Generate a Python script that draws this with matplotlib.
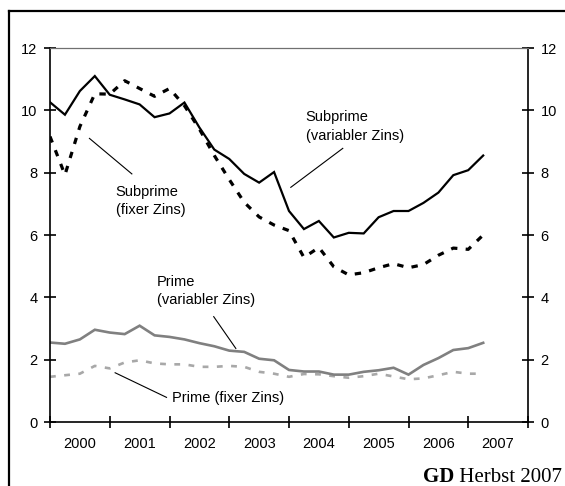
import matplotlib
matplotlib.use("Agg")
import matplotlib.pyplot as plt
import numpy as np
from matplotlib.lines import Line2D

plt.rcParams['font.family'] = ['Liberation Sans', 'DejaVu Sans']

# quarterly data 2000Q1 .. 2007Q2
quarters = [2000 + 0.25 * i for i in range(30)]

subprime_var = [10.26, 9.86, 10.62, 11.1, 10.5, 10.35, 10.19, 9.78, 9.9, 10.25,
                9.45, 8.74, 8.44, 7.96, 7.68, 8.02, 6.77, 6.19, 6.45, 5.92,
                6.07, 6.05, 6.57, 6.77, 6.77, 7.03, 7.36, 7.92, 8.08, 8.55]
subprime_fix = [9.16, 7.93, 9.48, 10.53, 10.52, 10.95, 10.7, 10.45, 10.7, 10.15,
                9.4, 8.55, 7.78, 7.05, 6.58, 6.32, 6.14, 5.28, 5.6, 4.98,
                4.72, 4.79, 4.95, 5.08, 4.95, 5.05, 5.35, 5.58, 5.54, 6.0]
prime_var = [2.55, 2.51, 2.65, 2.96, 2.87, 2.82, 3.09, 2.78, 2.73, 2.65,
             2.53, 2.43, 2.29, 2.25, 2.03, 1.98, 1.67, 1.62, 1.62, 1.52,
             1.52, 1.61, 1.66, 1.74, 1.52, 1.83, 2.05, 2.31, 2.37, 2.54]
prime_fix = [1.45, 1.5, 1.55, 1.8, 1.72, 1.91, 1.98, 1.88, 1.85, 1.85,
             1.77, 1.77, 1.8, 1.77, 1.61, 1.55, 1.45, 1.54, 1.53, 1.47,
             1.42, 1.47, 1.55, 1.46, 1.37, 1.4, 1.5, 1.61, 1.55, 1.55]

year_labels = ['2000', '2001', '2002', '2003', '2004', '2005', '2006', '2007']
y_ticks = [0, 2, 4, 6, 8, 10, 12]

W, H = 565, 486
fig = plt.figure(figsize=(W / 100, H / 100), dpi=100)
ax = fig.add_axes([50 / W, 1 - 422 / H, (528 - 50) / W, (422 - 48) / H])

ax.plot(quarters, prime_fix, color='#a8a8a8', lw=1.9, linestyle=(0, (2.2, 3.2)))
ax.plot(quarters, prime_var, color='#808080', lw=1.9, solid_joinstyle='miter')
ax.plot(quarters, subprime_fix, color='black', lw=2.3, linestyle=(0, (2.0, 2.6)))
ax.plot(quarters, subprime_var, color='black', lw=1.6, solid_joinstyle='miter')

ax.set_xlim(2000, 2008)
ax.set_ylim(0, 12)

ax.set_xticks(range(2000, 2009))
ax.set_xticklabels([])
ax.set_xticks([2000.5 + k for k in range(8)], minor=True)
ax.set_xticklabels(year_labels, minor=True)
ax.tick_params(axis='x', which='major', direction='inout', length=8, width=1.2, color='black')
ax.tick_params(axis='x', which='minor', length=0, pad=11, labelsize=10.5)

ax.set_yticks(y_ticks)
ax.tick_params(axis='y', which='major', direction='inout', length=8, width=1.2,
               left=True, right=True, labelleft=True, labelright=True,
               labelsize=10.5, pad=5)

for s in ['left', 'right', 'bottom']:
    ax.spines[s].set_linewidth(1.2)
    ax.spines[s].set_color('black')
ax.spines['top'].set_linewidth(0.9)
ax.spines['top'].set_color('#707070')

fs = 10.5
def note(text, tx, ty, p0, p1):
    ax.text(tx, ty, text, fontsize=fs, ha='left', va='center', linespacing=1.4)
    ax.plot([p0[0], p1[0]], [p0[1], p1[1]], color='black', lw=0.8)

note('Subprime\n(variabler Zins)', 2004.28, 9.48, (2004.03, 7.53), (2004.90, 8.78))
note('Subprime\n(fixer Zins)', 2001.10, 7.10, (2000.66, 9.10), (2001.37, 7.96))
note('Prime\n(variabler Zins)', 2001.79, 4.21, (2002.74, 3.38), (2003.11, 2.36))
note('Prime (fixer Zins)', 2002.04, 0.77, (2001.09, 1.58), (2001.95, 0.79))

# outer frame (top and left)
fig.add_artist(Line2D([8.5 / W, 1.0], [1 - 11 / H, 1 - 11 / H], color='black', lw=1.6,
                      transform=fig.transFigure))
fig.add_artist(Line2D([8.5 / W, 8.5 / W], [0, 1 - 11 / H], color='black', lw=1.6,
                      transform=fig.transFigure))

fig.text(562 / W, 1 - 477 / H, r'$\mathbf{GD}$', fontsize=15, ha='right', va='center', alpha=0)
t = fig.text(562 / W, 1 - 477 / H, 'GD', fontsize=15, family='Liberation Serif',
             fontweight='bold', ha='left', va='center')
fig.text(562 / W, 1 - 477 / H, ' Herbst 2007', fontsize=15, family='Liberation Serif',
         ha='right', va='center')
# position bold "GD" just before the rest
fig.canvas.draw()
r = fig.canvas.get_renderer()
rest = [tx for tx in fig.texts if tx.get_text() == ' Herbst 2007'][0]
bb = rest.get_window_extent(r)
bgd = t.get_window_extent(r)
t.set_position(((bb.x0 - bgd.width) / W, 1 - 477 / H))

fig.savefig('out.png', dpi=100)
